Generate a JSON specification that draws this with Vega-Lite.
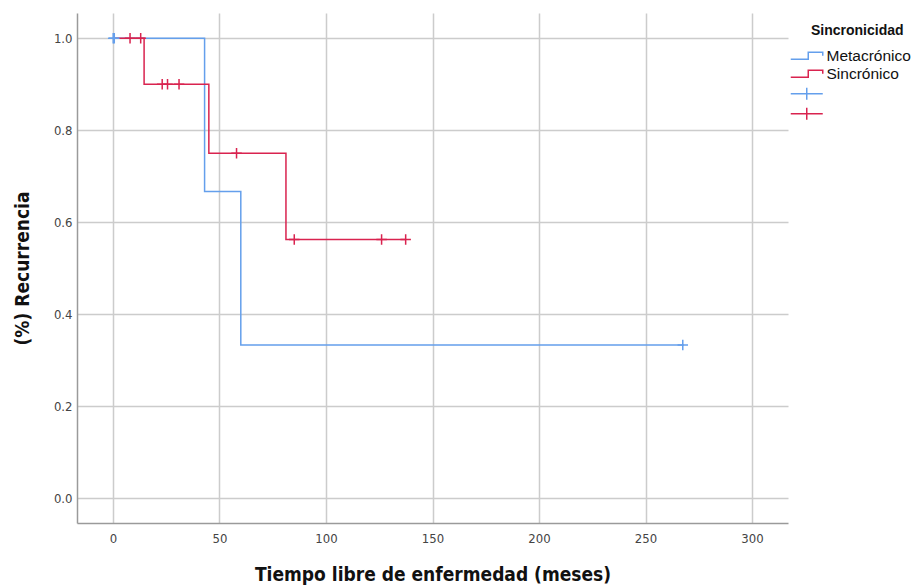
{
  "$schema": "https://vega.github.io/schema/vega-lite/v6.json",
  "autosize": "none",
  "width": 711,
  "height": 510,
  "padding": {"left": 77, "top": 13, "right": 136, "bottom": 63},
  "background": "white",
  "config": {
    "view": {"stroke": null},
    "font": "Liberation Sans",
    "axis": {
      "gridColor": "#cccccc",
      "gridWidth": 1.5,
      "domainColor": "#9a9a9a",
      "domainWidth": 1.5,
      "ticks": false,
      "labelColor": "#444444",
      "labelFontSize": 13,
      "labelFont": "DejaVu Sans Condensed",
      "titleFont": "DejaVu Sans Condensed",
      "titleFontWeight": "bold",
      "titleFontSize": 19,
      "titleColor": "#111111"
    }
  },
  "data": {
    "values": [
      {"serie": "Metacrónico", "tipo": "curva", "t": 0, "s": 1},
      {"serie": "Metacrónico", "tipo": "curva", "t": 43, "s": 0.6667},
      {"serie": "Metacrónico", "tipo": "curva", "t": 60, "s": 0.3333},
      {"serie": "Metacrónico", "tipo": "curva", "t": 268, "s": 0.3333},
      {"serie": "Sincrónico", "tipo": "curva", "t": 0, "s": 1},
      {"serie": "Sincrónico", "tipo": "curva", "t": 14.6, "s": 0.9},
      {"serie": "Sincrónico", "tipo": "curva", "t": 45, "s": 0.75},
      {"serie": "Sincrónico", "tipo": "curva", "t": 81.2, "s": 0.5625},
      {"serie": "Sincrónico", "tipo": "curva", "t": 137.4, "s": 0.5625},
      {"serie": "Metacrónico censurado", "tipo": "censura", "t": 0.1, "s": 1},
      {"serie": "Metacrónico censurado", "tipo": "censura", "t": 0.6, "s": 1},
      {"serie": "Metacrónico censurado", "tipo": "censura", "t": 267.5, "s": 0.3333},
      {"serie": "Sincrónico censurado", "tipo": "censura", "t": 8, "s": 1},
      {"serie": "Sincrónico censurado", "tipo": "censura", "t": 13, "s": 1},
      {"serie": "Sincrónico censurado", "tipo": "censura", "t": 23.1, "s": 0.9},
      {"serie": "Sincrónico censurado", "tipo": "censura", "t": 25.6, "s": 0.9},
      {"serie": "Sincrónico censurado", "tipo": "censura", "t": 31, "s": 0.9},
      {"serie": "Sincrónico censurado", "tipo": "censura", "t": 58, "s": 0.75},
      {"serie": "Sincrónico censurado", "tipo": "censura", "t": 85.1, "s": 0.5625},
      {"serie": "Sincrónico censurado", "tipo": "censura", "t": 126.1, "s": 0.5625},
      {"serie": "Sincrónico censurado", "tipo": "censura", "t": 137.4, "s": 0.5625}
    ]
  },
  "encoding": {
    "x": {
      "field": "t", "type": "quantitative",
      "scale": {"domain": [-16.9, 316.9], "nice": false, "zero": false},
      "axis": {"values": [0, 50, 100, 150, 200, 250, 300], "title": "Tiempo libre de enfermedad (meses)", "labelPadding": 9, "titlePadding": 20}
    },
    "y": {
      "field": "s", "type": "quantitative",
      "scale": {"domain": [-0.054, 1.055], "nice": false, "zero": false},
      "axis": {"values": [0, 0.2, 0.4, 0.6, 0.8, 1.0], "format": ".1f", "title": "(%) Recurrencia", "labelPadding": 5, "titlePadding": 21}
    },
    "color": {
      "field": "serie", "type": "nominal",
      "scale": {
        "domain": ["Metacrónico", "Sincrónico", "Metacrónico censurado", "Sincrónico censurado"],
        "range": ["#649fec", "#d9234f", "#649fec", "#d9234f"]
      },
      "legend": {
        "title": "Sincronicidad",
        "orient": "none",
        "legendX": 722,
        "legendY": 11,
        "padding": 0,
        "titleFont": "Liberation Sans",
        "titleFontSize": 14,
        "titleFontWeight": "bold",
        "titleColor": "#111111",
        "titlePadding": 10,
        "labelFont": "Liberation Sans",
        "labelFontSize": 15.5,
        "labelColor": "#111111",
        "labelOffset": 12,
        "rowPadding": 1,
        "symbolSize": 100,
        "symbolStrokeWidth": 1.5,
        "labelExpr": "indexof(datum.label, 'censurado') >= 0 ? '' : datum.label",
        "encode": {
          "title": {"update": {"dx": {"value": 12}}},
          "symbols": {
            "update": {
              "shape": {"signal": "indexof(datum.value, 'censurado') >= 0 ? 'M-3.2,0L3.2,0M0,-1.2L0,1.2' : 'M-3.2,0.7L0.3,0.7L0.3,-0.7L3.2,-0.7L3.2,0'"},
              "fill": {"value": "transparent"},
              "strokeWidth": {"value": 1.5}
            }
          }
        }
      }
    }
  },
  "layer": [
    {
      "transform": [{"filter": "datum.tipo == 'curva'"}],
      "mark": {"type": "line", "interpolate": "step-after", "strokeWidth": 1.5},
      "encoding": {"detail": {"field": "serie"}}
    },
    {
      "transform": [{"filter": "datum.tipo == 'censura'"}],
      "mark": {"type": "point", "shape": "M-1,0L1,0M0,-1L0,1", "filled": false, "size": 110, "strokeWidth": 1.5, "opacity": 1}
    }
  ]
}
